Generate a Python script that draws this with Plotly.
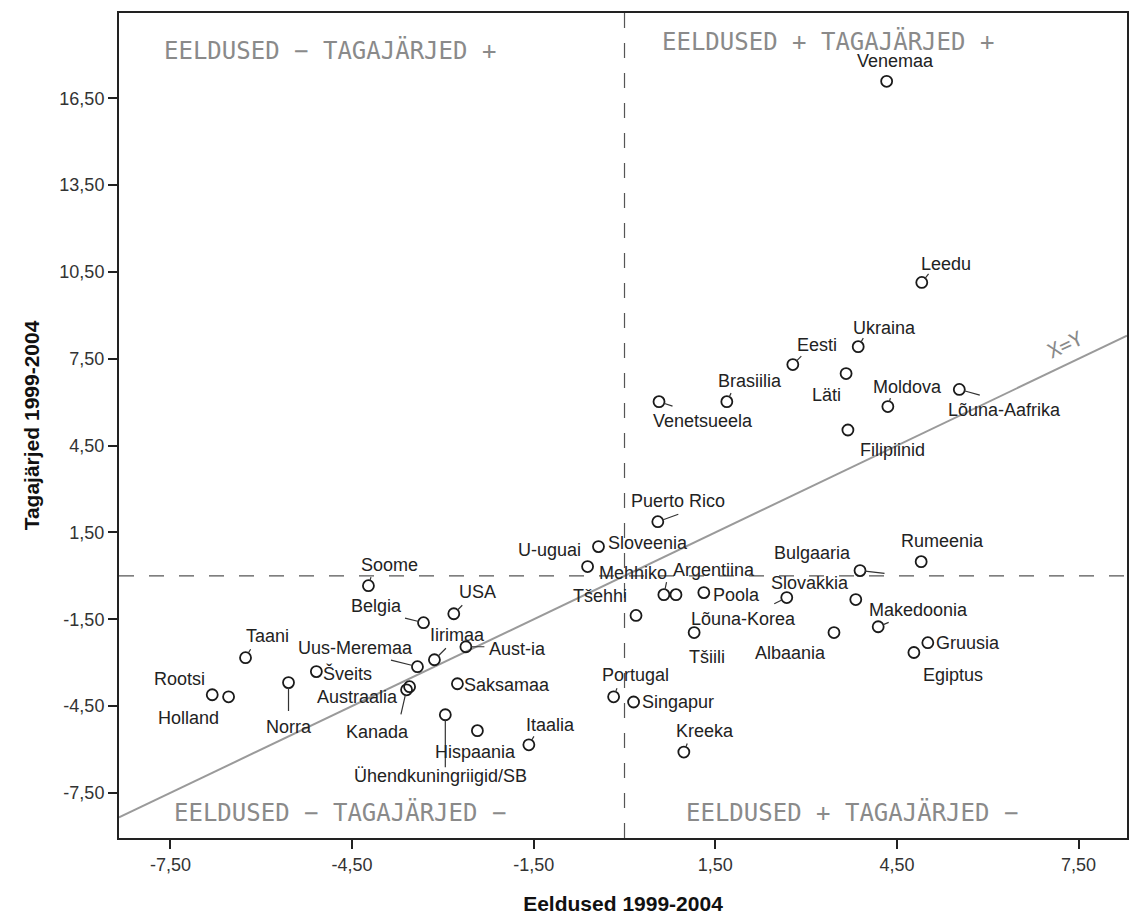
import plotly.graph_objects as go

# ---- data ----
countries = ["Venemaa", "Leedu", "Ukraina", "Eesti", "Läti", "Brasiilia", "Venetsueela",
             "Moldova", "Lõuna-Aafrika", "Filipiinid", "Puerto Rico", "Sloveenia", "U-uguai",
             "Mehhiko", "Argentiina", "Poola", "Tšehhi", "Tšiili", "Lõuna-Korea", "Slovakkia",
             "Bulgaaria", "Makedoonia", "Albaania", "Rumeenia", "Gruusia", "Egiptus",
             "Portugal", "Singapur", "Kreeka", "Soome", "Belgia", "USA", "Iirimaa",
             "Uus-Meremaa", "Aust-ia", "Taani", "Šveits", "Rootsi", "Holland", "Norra",
             "Austraalia", "Kanada", "Saksamaa", "Ühendkuningriigid/SB", "Hispaania", "Itaalia"]
eeldused = [4.33, 4.91, 3.86, 2.78, 3.66, 1.69, 0.57,
            4.35, 5.53, 3.69, 0.55, -0.43, -0.61,
            0.65, 0.85, 1.31, 0.19, 1.15, 2.68, 3.82,
            3.89, 4.19, 3.46, 4.90, 5.01, 4.78,
            -0.18, 0.15, 0.98, -4.23, -3.32, -2.82, -3.14,
            -3.42, -2.62, -6.26, -5.09, -6.81, -6.54, -5.55,
            -3.55, -3.60, -2.76, -2.96, -2.43, -1.58]
tagajarjed = [17.09, 10.14, 7.92, 7.30, 6.99, 6.02, 6.02,
              5.85, 6.44, 5.04, 1.87, 1.01, 0.32,
              -0.65, -0.65, -0.58, -1.37, -1.96, -0.75, -0.82,
              0.18, -1.76, -1.96, 0.49, -2.31, -2.65,
              -4.18, -4.36, -6.09, -0.34, -1.62, -1.31, -2.90,
              -3.14, -2.45, -2.83, -3.31, -4.11, -4.18, -3.69,
              -3.83, -3.94, -3.73, -4.80, -5.35, -5.84]
tick_vals_x = [-7.5, -4.5, -1.5, 1.5, 4.5, 7.5]
tick_vals_y = [-7.5, -4.5, -1.5, 1.5, 4.5, 7.5, 10.5, 13.5, 16.5]
x_title = "Eeldused 1999-2004"
y_title = "Tagajärjed 1999-2004"
quadrant_notes = ["EELDUSED − TAGAJÄRJED +", "EELDUSED + TAGAJÄRJED +",
                  "EELDUSED − TAGAJÄRJED −", "EELDUSED + TAGAJÄRJED −"]

# ---- layout helpers (label placement, pixels) ----
X_RANGE = [-8.35, 8.3]
Y_RANGE = [-9.06, 19.45]
label_place = {  # name: (xanchor, xshift, yshift)
    "Venemaa": ("center", 9, 20), "Leedu": ("left", -3, 18), "Ukraina": ("left", -7, 19),
    "Eesti": ("left", 2, 20), "Läti": ("right", -3, -21), "Brasiilia": ("left", -11, 21),
    "Venetsueela": ("left", -8, -19), "Moldova": ("left", -17, 20),
    "Lõuna-Aafrika": ("left", -13, -21), "Filipiinid": ("left", 10, -20),
    "Puerto Rico": ("left", -29, 21), "Sloveenia": ("left", 8, 4), "U-uguai": ("right", -5, 17),
    "Mehhiko": ("right", 5, 22), "Argentiina": ("left", -5, 25), "Poola": ("left", 7, -2),
    "Tšehhi": ("right", -7, 19), "Tšiili": ("left", -7, -24), "Lõuna-Korea": ("right", 11, -21),
    "Slovakkia": ("right", -5, 17), "Bulgaaria": ("right", -7, 18),
    "Makedoonia": ("left", -11, 17), "Albaania": ("right", -6, -20),
    "Rumeenia": ("left", -22, 21), "Gruusia": ("left", 6, 0), "Egiptus": ("left", 7, -22),
    "Portugal": ("left", -14, 22), "Singapur": ("left", 6, 0), "Kreeka": ("left", -10, 21),
    "Soome": ("left", -9, 21), "Belgia": ("right", -20, 17), "USA": ("left", 3, 22),
    "Iirimaa": ("left", -6, 25), "Uus-Meremaa": ("right", -2, 19), "Aust-ia": ("left", 21, -2),
    "Taani": ("left", -2, 22), "Šveits": ("left", 5, -2), "Rootsi": ("right", -5, 16),
    "Holland": ("right", -8, -21), "Norra": ("center", 0, -44), "Austraalia": ("right", -10, -10),
    "Kanada": ("center", -29, -42), "Saksamaa": ("left", 5, -1),
    "Ühendkuningriigid/SB": ("center", -5, -61), "Hispaania": ("center", -2, -21),
    "Itaalia": ("left", -5, 20),
}
leaders = {  # name: (ax, ay) pixel tail of a leader line from the marker
    "Leedu": (8, -10), "Ukraina": (6, -10), "Eesti": (10, -10),
    "Brasiilia": (5, -10), "Venetsueela": (15, 5), "Lõuna-Aafrika": (22, 6),
    "Puerto Rico": (22, -8), "Mehhiko": (3, -14), "Lõuna-Korea": (-14, 7),
    "Bulgaaria": (26, 3), "Makedoonia": (12, -5), "Belgia": (-20, -5), "USA": (10, -10),
    "Iirimaa": (13, -13), "Uus-Meremaa": (-28, -7), "Aust-ia": (20, 0), "Norra": (0, 30),
    "Kanada": (-6, 26), "Ühendkuningriigid/SB": (0, 54), "Itaalia": (6, -10),
    "Kreeka": (4, -10), "Portugal": (4, -10), "Soome": (3, -10), "Taani": (6, -10),
    "Moldova": (3, -10),
}

fig = go.Figure()

# diagonal x = y reference line, spanning the axis range
fig.add_trace(go.Scatter(x=X_RANGE, y=X_RANGE, mode="lines",
                         line=dict(color="#9a9a9a", width=2), hoverinfo="skip",
                         showlegend=False))

fig.add_trace(go.Scatter(x=eeldused, y=tagajarjed, mode="markers",
                         marker=dict(symbol="circle-open", size=11, color="#1a1a1a",
                                     line=dict(width=1.8)),
                         text=countries, showlegend=False))

fig.add_vline(x=0, line=dict(color="#555", width=1.2, dash="longdash"))
fig.add_hline(y=0, line=dict(color="#555", width=1.2, dash="longdash"))

annotations = []
for name, xv, yv in zip(countries, eeldused, tagajarjed):
    anc, dx, dy = label_place[name]
    annotations.append(dict(x=xv, y=yv, xref="x", yref="y", text=name, showarrow=False,
                            xanchor=anc, yanchor="middle", xshift=dx, yshift=dy,
                            font=dict(family="Liberation Sans, Arial", size=18, color="#222")))
    if name in leaders:
        ax, ay = leaders[name]
        annotations.append(dict(x=xv, y=yv, xref="x", yref="y", text="", showarrow=True,
                                arrowhead=0, arrowwidth=1.2, arrowcolor="#333",
                                standoff=5, ax=ax, ay=ay))

hand_font = dict(family="DejaVu Sans Mono", size=24, color="#8a8a8a")
note_pos = [(0.209, 0.955), (0.703, 0.966), (0.219, 0.031), (0.727, 0.031)]
for txt, (px, py) in zip(quadrant_notes, note_pos):
    annotations.append(dict(x=px, y=py, xref="paper", yref="paper", text=txt,
                            showarrow=False, font=hand_font, xanchor="center",
                            yanchor="middle"))
annotations.append(dict(x=0.962, y=0.598, xref="paper", yref="paper", text="X=Y",
                        showarrow=False, textangle=-25,
                        font=dict(family="DejaVu Sans Mono", size=20, color="#8a8a8a")))

fig.update_layout(
    width=1130, height=921,
    margin=dict(l=119, r=3, t=13, b=83),
    paper_bgcolor="white", plot_bgcolor="white",
    annotations=annotations,
    font=dict(family="Liberation Sans, Arial", color="#222"),
)
fig.update_xaxes(range=X_RANGE, tickvals=tick_vals_x, automargin=False,
                 ticktext=[f"{v:.2f}".replace(".", ",") for v in tick_vals_x],
                 showgrid=False, zeroline=False, showline=True, mirror=True,
                 linecolor="#222", linewidth=2, ticks="outside", ticklen=9,
                 tickwidth=2, tickcolor="#222",
                 tickfont=dict(size=18, color="#333"),
                 title=dict(text=f"<b>{x_title}</b>", font=dict(size=21, color="#111"),
                            standoff=23))
fig.update_yaxes(range=Y_RANGE, tickvals=tick_vals_y, automargin=False,
                 ticktext=[f"{v:.2f}".replace(".", ",") for v in tick_vals_y],
                 showgrid=False, zeroline=False, showline=True, mirror=True,
                 linecolor="#222", linewidth=2, ticks="outside", ticklen=9,
                 tickwidth=2, tickcolor="#222",
                 tickfont=dict(size=18, color="#333"),
                 title=dict(text=f"<b>{y_title}</b>", font=dict(size=21, color="#111"),
                            standoff=14))

fig.write_html("out.html", config={"displayModeBar": False},
               post_script="document.body.style.margin='0';document.body.style.overflow='hidden';")
